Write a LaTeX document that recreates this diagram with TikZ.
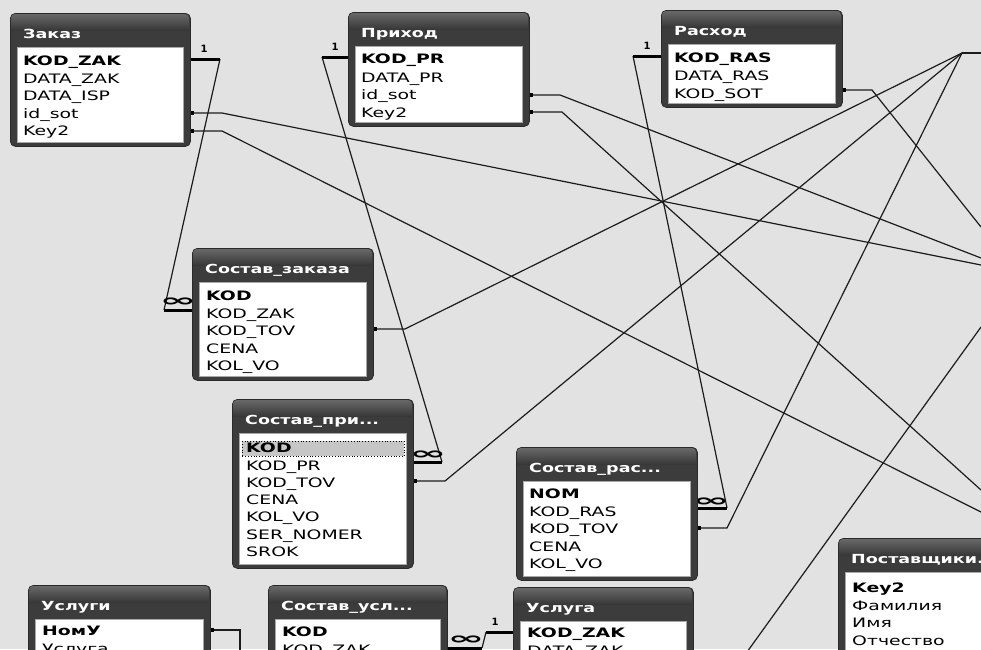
\documentclass[tikz,border=0pt]{standalone}
\usepackage{fontspec}
\usetikzlibrary{calc}
\setmainfont{DejaVu Sans}
\newfontfamily\fieldfont[FakeStretch=1.45]{DejaVu Sans}
\newfontfamily\ttlfont[FakeStretch=1.4]{DejaVu Sans}
\newfontfamily\inffont[FakeStretch=2.6]{DejaVu Sans}
\definecolor{bg}{HTML}{E2E2E2}
\definecolor{framec}{HTML}{3C3C3C}
\definecolor{framed}{HTML}{2A2A2A}
\definecolor{bandA}{HTML}{686868}
\definecolor{bandB}{HTML}{353535}
\definecolor{listc}{HTML}{A8A8A8}
\definecolor{linec}{HTML}{1C1C1C}
\definecolor{selc}{HTML}{C6C6C6}
\tikzset{
  frame/.style={draw=framed, fill=framec, rounded corners=5pt, anchor=north west, inner sep=0pt, line width=0.8pt},
  listbox/.style={fill=white, draw=listc, line width=1.2pt, anchor=north west, inner sep=0pt},
  ttl/.style={anchor=base west, text=white, font=\ttlfont\bfseries\fontsize{12.5}{12.5}\selectfont, inner sep=0pt},
  fld/.style={anchor=base west, font=\fieldfont\fontsize{13}{13}\selectfont, inner sep=0pt, text=black},
  pk/.style={anchor=base west, font=\fieldfont\bfseries\fontsize{13}{13}\selectfont, inner sep=0pt, text=black},
  rel/.style={draw=linec, line width=1.2pt},
  onebar/.style={draw=black, line width=3pt},
  onelbl/.style={font=\bfseries\fontsize{10}{10}\selectfont, inner sep=0pt},
  inflbl/.style={font=\inffont\bfseries\fontsize{17}{17}\selectfont, inner sep=0pt},
  enddot/.style={fill=black},
}
\newcommand\dbtab[6]{%
  \node[frame, minimum width=#4pt, minimum height=#5pt] (#1) at (#2,#3) {};
  \shade[top color=bandA, bottom color=bandB] ({#2+1},{#3+18}) [rounded corners=4pt] -- ({#2+1},{#3+1}) -- ({#2+#4-1},{#3+1}) [sharp corners] -- ({#2+#4-1},{#3+18}) -- cycle;
  \node[ttl] (#1-t) at ({#2+13},{#3+25}) {#6};
  \node[listbox, minimum width={(#4-14)*1pt}, minimum height={(#5-38)*1pt}] (#1-l) at ({#2+7},{#3+34}) {};
}
\begin{document}
\begin{tikzpicture}[x=1pt,y=-1pt]
\useasboundingbox (0,0) rectangle (981,649);
\clip (0,0) rectangle (981,649);
\fill[bg] (0,0) rectangle (981,649);

% ---------- connector anchor points ----------
\coordinate (zakKZ) at (190,59);  \coordinate (zakKZb) at (220,59);
\coordinate (zakID) at (190,113); \coordinate (zakIDb) at (222,113);
\coordinate (zakK2) at (190,131); \coordinate (zakK2b) at (222,131);
\coordinate (szL) at (192,310);   \coordinate (szLb) at (164,310);
\coordinate (szTV) at (373,329);  \coordinate (szTVb) at (405,329);
\coordinate (prKP) at (348,57);   \coordinate (prKPb) at (322,57);
\coordinate (prID) at (529,95);   \coordinate (prIDb) at (560,95);
\coordinate (prK2) at (529,112);  \coordinate (prK2b) at (562,112);
\coordinate (spR) at (413,462);   \coordinate (spRb) at (442,462);
\coordinate (spTV) at (413,481);  \coordinate (spTVb) at (445,481);
\coordinate (rsKR) at (661,56);   \coordinate (rsKRb) at (633,56);
\coordinate (rsKS) at (842,90);   \coordinate (rsKSb) at (872,90);
\coordinate (srR) at (697,508);   \coordinate (srRb) at (727,508);
\coordinate (srTV) at (697,528);  \coordinate (srTVb) at (727,528);
\coordinate (hub) at (962,53);    \coordinate (hubR) at (990,53);
\coordinate (offA) at (981,227);
\coordinate (offB) at (981,258);
\coordinate (offC) at (981,265);
\coordinate (offD) at (981,490);
\coordinate (offE) at (981,512);
\coordinate (offF) at (981,327);  \coordinate (offG) at (747,652);
\coordinate (ugR) at (210,630);   \coordinate (ugRb) at (240,630); \coordinate (ugD) at (240,660);
\coordinate (ulKZ) at (513,632);  \coordinate (ulKZb) at (486,632);
\coordinate (suR) at (447,648);   \coordinate (suRb) at (482,648);

% ---------- thin connectors ----------
\draw[rel] (zakKZb) -- (szLb);
\draw[rel] (zakID) -- (zakIDb) -- (offC);
\draw[rel] (zakK2) -- (zakK2b) -- (offE);
\draw[rel] (prKPb) -- (spRb);
\draw[rel] (prID) -- (prIDb) -- (offB);
\draw[rel] (prK2) -- (prK2b) -- (offD);
\draw[rel] (rsKRb) -- (srRb);
\draw[rel] (rsKS) -- (rsKSb) -- (offA);
\draw[rel] (szTV) -- (szTVb) -- (hub);
\draw[rel] (spTV) -- (spTVb) -- (hub);
\draw[rel] (srTV) -- (srTVb) -- (hub);
\draw[rel] (hub) -- (hubR);
\draw[rel] (offF) -- (offG);
\draw[rel] (ugR) -- (ugRb) -- (ugD);
\draw[rel] (ulKZb) -- (suRb);

% ---------- relationship ends ----------
\draw[onebar] (zakKZ) -- (zakKZb);
\draw[onebar] (szL) -- (szLb);
\draw[onebar] (prKP) -- (prKPb);
\draw[onebar] (spR) -- (spRb);
\draw[onebar] (rsKR) -- (rsKRb);
\draw[onebar] (srR) -- (srRb);
\draw[onebar] (ulKZ) -- (ulKZb);
\draw[onebar] (suR) -- (suRb);
\node[onelbl] (one1) at (204,49) {1};
\node[onelbl] (one2) at (335,47) {1};
\node[onelbl] (one3) at (647,46) {1};
\node[onelbl] (one4) at (495,622) {1};
\node[inflbl] (inf1) at (178,302) {∞};
\node[inflbl] (inf2) at (428,455) {∞};
\node[inflbl] (inf3) at (711,502) {∞};
\node[inflbl] (inf4) at (466,640) {∞};
\foreach \p in {zakID,zakK2,prID,prK2,rsKS,szTV,spTV,srTV,ugR}{
  \fill[enddot] ($(\p)+(0,-1.6)$) rectangle ++(4,3.2);
}

% ---------- tables ----------
\dbtab{zak}{10}{13}{180}{133}{Заказ}
\node[pk]  (zak1) at (23,65.7)  {KOD\_ZAK};
\node[fld] (zak2) at (23,83.2)  {DATA\_ZAK};
\node[fld] (zak3) at (23,100.7) {DATA\_ISP};
\node[fld] (zak4) at (23,118.2) {id\_sot};
\node[fld] (zak5) at (23,135.7) {Key2};

\dbtab{pri}{348}{12}{181}{114}{Приход}
\node[pk]  (pri1) at (361,63.7)  {KOD\_PR};
\node[fld] (pri2) at (361,82.2)  {DATA\_PR};
\node[fld] (pri3) at (361,99.7)  {id\_sot};
\node[fld] (pri4) at (361,117.2) {Key2};

\dbtab{ras}{661}{10}{181}{97}{Расход}
\node[pk]  (ras1) at (674,62.7) {KOD\_RAS};
\node[fld] (ras2) at (674,80.7) {DATA\_RAS};
\node[fld] (ras3) at (674,98.7) {KOD\_SOT};

\dbtab{sz}{192}{248}{181}{132}{Состав\_заказа}
\node[pk]  (sz1) at (206,300.7) {KOD};
\node[fld] (sz2) at (206,318.2) {KOD\_ZAK};
\node[fld] (sz3) at (206,335.7) {KOD\_TOV};
\node[fld] (sz4) at (206,353.2) {CENA};
\node[fld] (sz5) at (206,370.7) {KOL\_VO};

\dbtab{sp}{232}{399}{181}{169}{Состав\_при...}
\node[fill=selc, draw=black, dotted, line width=0.8pt, anchor=north west, minimum width=162pt, minimum height=15pt, inner sep=0pt] (spsel) at (242,441) {};
\node[pk]  (sp1) at (246,452.7) {KOD};
\node[fld] (sp2) at (246,470.0) {KOD\_PR};
\node[fld] (sp3) at (246,487.3) {KOD\_TOV};
\node[fld] (sp4) at (246,504.7) {CENA};
\node[fld] (sp5) at (246,521.9) {KOL\_VO};
\node[fld] (sp6) at (246,539.2) {SER\_NOMER};
\node[fld] (sp7) at (246,556.5) {SROK};

\dbtab{sr}{516}{447}{181}{133}{Состав\_рас...}
\node[pk]  (sr1) at (529,498.7) {NOM};
\node[fld] (sr2) at (529,516.2) {KOD\_RAS};
\node[fld] (sr3) at (529,533.7) {KOD\_TOV};
\node[fld] (sr4) at (529,551.2) {CENA};
\node[fld] (sr5) at (529,568.7) {KOL\_VO};

\dbtab{pst}{838}{538}{181}{140}{Поставщики...}
\node[pk]  (pst1) at (852,592.7) {Key2};
\node[fld] (pst2) at (852,610.2) {Фамилия};
\node[fld] (pst3) at (852,627.7) {Имя};
\node[fld] (pst4) at (852,645.2) {Отчество};

\dbtab{ug}{28}{585}{182}{120}{Услуги}
\node[pk]  (ug1) at (42,635.7) {НомУ};
\node[fld] (ug2) at (42,653.2) {Услуга};

\dbtab{su}{268}{585}{179}{120}{Состав\_усл...}
\node[pk]  (su1) at (282,636.7) {KOD};
\node[fld] (su2) at (282,654.2) {KOD\_ZAK};

\dbtab{ul}{513}{587}{180}{120}{Услуга}
\node[pk]  (ul1) at (527,637.7) {KOD\_ZAK};
\node[fld] (ul2) at (527,655.2) {DATA\_ZAK};
\end{tikzpicture}
\end{document}
